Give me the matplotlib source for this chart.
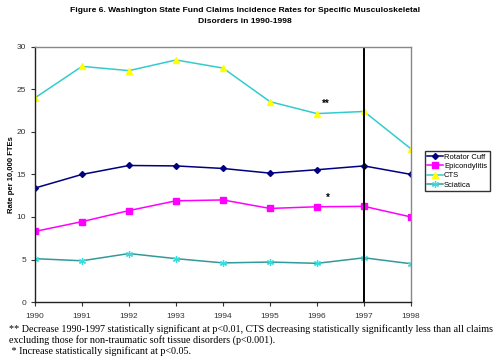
# Figure 6 recreation - WA State Fund claims incidence rates
import matplotlib
matplotlib.use("Agg")
import matplotlib.pyplot as plt

plt.rcParams["font.family"] = ["Liberation Sans", "DejaVu Sans"]

years = [1990, 1991, 1992, 1993, 1994, 1995, 1996, 1997, 1998]
rotator_cuff = [13.4, 15.0, 16.05, 16.0, 15.7, 15.15, 15.55, 16.0, 15.0]
epicondylitis = [8.3, 9.45, 10.75, 11.9, 12.0, 11.0, 11.2, 11.25, 10.0]
cts = [24.0, 27.7, 27.2, 28.45, 27.5, 23.55, 22.15, 22.4, 18.0]
sciatica = [5.1, 4.85, 5.7, 5.1, 4.6, 4.7, 4.55, 5.2, 4.5]
yticks = [0, 5, 10, 15, 20, 25, 30]

fig = plt.figure(figsize=(5, 3.6), dpi=100)
ax = fig.add_axes([0.07, 0.161, 0.752, 0.709])

ax.plot(years, rotator_cuff, color="#000080", lw=1.1, marker="D", ms=3,
        label="Rotator Cuff")
ax.plot(years, epicondylitis, color="#FF00FF", lw=1.1, marker="s", ms=4,
        label="Epicondylitis")
ax.plot(years, cts, color="#33CCCC", lw=1.1, marker="^", ms=4.5,
        mfc="#FFFF00", mec="#FFFF00", label="CTS")
ax.plot(years, sciatica, color="#339999", lw=1.1, marker=(6, 2, 0), ms=5,
        mec="#33DDDD", mew=0.9, label="Sciatica")

# vertical marker at 1997
ax.axvline(1997, color="black", lw=1.4)

ax.set_xlim(1990, 1998)
ax.set_ylim(0, 30)
ax.set_xticks(years)
ax.set_yticks(yticks)
ax.tick_params(labelsize=6, colors="#333333", length=3, width=0.8)
ax.tick_params(axis="x", pad=5)
for s in ["left", "bottom"]:
    ax.spines[s].set_color("#222222")
    ax.spines[s].set_linewidth(1.0)
for s in ["top", "right"]:
    ax.spines[s].set_color("#888888")
    ax.spines[s].set_linewidth(1.0)

ax.set_ylabel("Rate per 10,000 FTEs", fontsize=5.5, fontweight="bold",
              labelpad=1)

ax.text(1996.1, 22.9, "**", fontsize=7, fontweight="bold")
ax.text(1996.2, 11.9, "*", fontsize=7, fontweight="bold")

fig.legend(loc="upper left", bbox_to_anchor=(0.85, 0.58), fontsize=5.5,
           frameon=True, fancybox=False, edgecolor="black", handlelength=2.0,
           handletextpad=0.2, borderpad=0.3, labelspacing=0.25,
           borderaxespad=0)

fig.text(0.49, 0.98, "Figure 6. Washington State Fund Claims Incidence Rates for Specific Musculoskeletal\nDisorders in 1990-1998",
         ha="center", va="top", fontsize=6.1, fontweight="bold",
         linespacing=1.75)

serif = "Liberation Serif"
fig.text(0.018, 0.078, "** Decrease 1990-1997 statistically significant at p<0.01, CTS decreasing statistically significantly less than all claims",
         fontsize=7.25, family=serif)
fig.text(0.018, 0.047, "excluding those for non-traumatic soft tissue disorders (p<0.001).",
         fontsize=7.25, family=serif)
fig.text(0.018, 0.016, " * Increase statistically significant at p<0.05.",
         fontsize=7.25, family=serif)

fig.savefig("out.png", dpi=100)
